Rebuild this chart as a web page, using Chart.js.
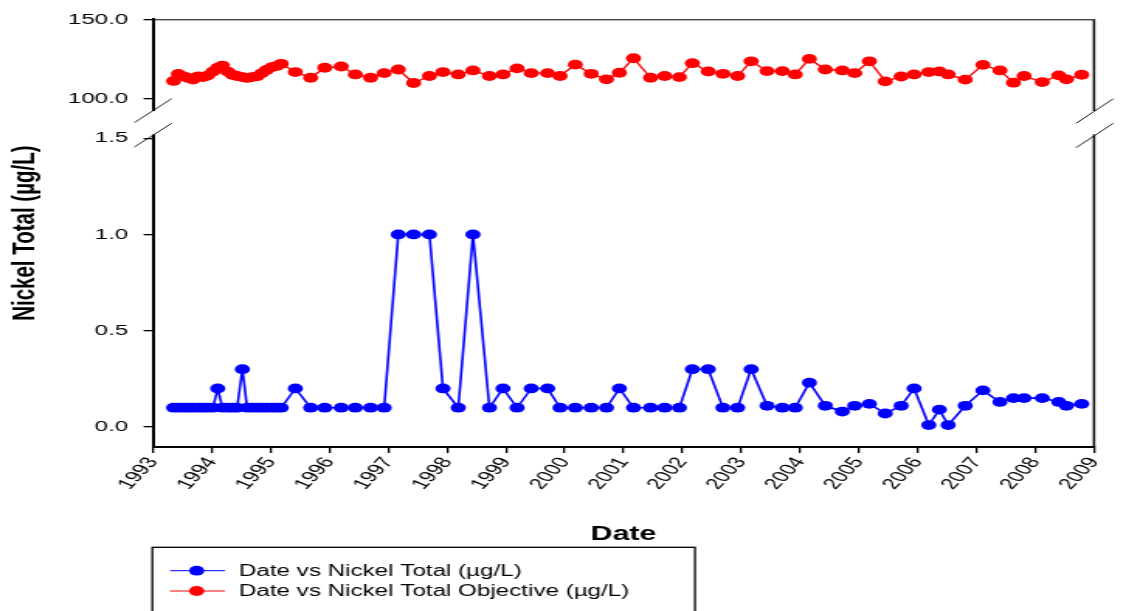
<!DOCTYPE html>
<html><head><meta charset="utf-8">
<script src="https://cdn.jsdelivr.net/npm/chart.js@4/dist/chart.umd.min.js"></script>
<style>html,body{margin:0;padding:0;background:#fff;overflow:hidden}
#c{display:block;width:1126px !important;height:611px !important}</style></head>
<body><canvas id="c" width="726" height="611" style="width:1126px;height:611px"></canvas>
<script>
// Sample dates (decimal years)
const dates = [
  1993.35, 1993.43, 1993.52, 1993.60, 1993.68, 1993.77, 1993.85, 1993.93,
  1994.02, 1994.10, 1994.18, 1994.27, 1994.35, 1994.43, 1994.52, 1994.60,
  1994.68, 1994.77, 1994.85, 1994.93, 1995.02, 1995.10, 1995.18,
  1995.42, 1995.68, 1995.92, 1996.20, 1996.44, 1996.70, 1996.93, 1997.17,
  1997.43, 1997.70, 1997.93, 1998.19, 1998.44, 1998.72, 1998.95, 1999.19,
  1999.43, 1999.71, 1999.92, 2000.18, 2000.45, 2000.71, 2000.93, 2001.17,
  2001.46, 2001.70, 2001.95, 2002.17, 2002.44, 2002.69, 2002.94, 2003.17,
  2003.44, 2003.70, 2003.92, 2004.16, 2004.43, 2004.72, 2004.93, 2005.18,
  2005.45, 2005.72, 2005.94, 2006.19, 2006.37, 2006.52, 2006.81, 2007.11,
  2007.40, 2007.63, 2007.81, 2008.12, 2008.40, 2008.53, 2008.79
];
// Nickel Total (µg/L)
const nickelTotal = [
  0.1, 0.1, 0.1, 0.1, 0.1, 0.1, 0.1, 0.1,
  0.1, 0.2, 0.1, 0.1, 0.1, 0.1, 0.3, 0.1,
  0.1, 0.1, 0.1, 0.1, 0.1, 0.1, 0.1,
  0.2, 0.1, 0.1, 0.1, 0.1, 0.1, 0.1, 1.0,
  1.0, 1.0, 0.2, 0.1, 1.0, 0.1, 0.2, 0.1,
  0.2, 0.2, 0.1, 0.1, 0.1, 0.1, 0.2, 0.1,
  0.1, 0.1, 0.1, 0.3, 0.3, 0.1, 0.1, 0.3,
  0.11, 0.1, 0.1, 0.23, 0.11, 0.08, 0.11, 0.12,
  0.07, 0.11, 0.2, 0.01, 0.09, 0.01, 0.11, 0.19,
  0.13, 0.15, 0.15, 0.15, 0.13, 0.11, 0.12
];
// Nickel Total Objective (µg/L)
const nickelObjective = [
  111.1, 115.5, 114.0, 113.0, 112.0, 114.0, 113.5, 114.5,
  117.0, 119.5, 120.8, 117.0, 115.0, 114.2, 113.5, 113.0,
  113.5, 114.0, 116.0, 118.0, 119.8, 120.5, 121.9,
  116.7, 113.1, 119.4, 120.2, 115.2, 113.1, 116.0, 118.3,
  109.8, 114.2, 116.7, 115.2, 117.7, 114.2, 115.2, 119.0,
  116.0, 116.0, 114.2, 121.4, 115.6, 112.1, 116.25, 125.4,
  113.1, 114.2, 113.5, 122.3, 117.1, 115.6, 114.2, 123.5,
  117.3, 117.3, 115.2, 125.0, 118.3, 117.7, 116.0, 123.5,
  110.8, 113.9, 115.2, 116.7, 117.1, 115.2, 111.9, 121.25,
  117.7, 110.0, 114.2, 110.4, 114.6, 112.1, 115.0
];
const xTickValues = [1993,1994,1995,1996,1997,1998,1999,2000,2001,2002,2003,2004,2005,2006,2007,2008,2009];
const xTickLabels = ['1993','1994','1995','1996','1997','1998','1999','2000','2001','2002','2003','2004','2005','2006','2007','2008','2009'];
const lowTickValues = [0, 0.5, 1.0, 1.5];
const lowTickLabels = ['0.0', '0.5', '1.0', '1.5'];
const highTickValues = [100, 150];
const highTickLabels = ['100.0', '150.0'];
const seriesNames = ['Date vs Nickel Total (µg/L)', 'Date vs Nickel Total Objective (µg/L)'];
const seriesColors = ['#0000ff', '#ff0000'];
const xTitle = 'Date';
const yTitle = 'Nickel Total (µg/L)';

const FONT = "'Liberation Sans', Arial, sans-serif";
const LEFT = 98.65, RIGHT_PAD = 20.6, TOP = 15;
const GAP_TOP = 111, GAP_BOT = 134.5;

function setTicks(values) { return s => { s.ticks = values.map(v => ({value: v})); }; }
function labelFor(values, labels) { return v => { const i = values.findIndex(t => Math.abs(t - v) < 1e-9); return i >= 0 ? labels[i] : ''; }; }

const tickFont = {family: FONT, size: 15.5};

const decor = {
  id: 'decor',
  afterDraw(chart) {
    const ctx = chart.ctx, a = chart.chartArea;
    ctx.save();
    // erase axis lines in the break gap
    ctx.fillStyle = '#fff';
    ctx.fillRect(a.left - 3, GAP_TOP, 6, GAP_BOT - GAP_TOP);
    // top frame
    ctx.strokeStyle = '#000';
    ctx.lineWidth = 1;
    ctx.beginPath(); ctx.moveTo(a.left, a.top + 0.5); ctx.lineTo(a.right, a.top + 0.5); ctx.stroke();
    // right frame with gap
    ctx.lineWidth = 1.5;
    ctx.beginPath();
    ctx.moveTo(a.right, a.top); ctx.lineTo(a.right, GAP_TOP);
    ctx.moveTo(a.right, GAP_BOT); ctx.lineTo(a.right, a.bottom);
    ctx.stroke();
    // break marks
    ctx.lineWidth = 0.9;
    const marks = [
      [a.left - 12.05, 122.7, a.left + 12.05, 98.7], [a.left - 12.05, 147, a.left + 12.05, 123.3],
      [a.right - 11.6, 123.3, a.right + 12.4, 98.7], [a.right - 11.6, 147.7, a.right + 12.4, 123.3]
    ];
    ctx.beginPath();
    marks.forEach(m => { ctx.moveTo(m[0], m[1]); ctx.lineTo(m[2], m[3]); });
    ctx.stroke();
    // axis titles
    ctx.fillStyle = '#000';
    ctx.font = 'bold 19.6px ' + FONT;
    ctx.textAlign = 'center'; ctx.textBaseline = 'middle';
    ctx.fillText(xTitle, (a.left + a.right) / 2, 535);
    ctx.save();
    ctx.translate(16.1, (a.top + a.bottom) / 2);
    ctx.rotate(-Math.PI / 2);
    ctx.font = 'bold 20.5px ' + FONT;
    ctx.fillText(yTitle, 0, 0);
    ctx.restore();
    // legend
    ctx.lineWidth = 1.3;
    ctx.strokeRect(98.2, 547.3, 349.9, 80);
    const rows = [570.7, 591];
    rows.forEach((y, i) => {
      ctx.strokeStyle = seriesColors[i]; ctx.fillStyle = seriesColors[i];
      ctx.lineWidth = 1;
      ctx.beginPath(); ctx.moveTo(109.6, y); ctx.lineTo(145.1, y); ctx.stroke();
      ctx.beginPath(); ctx.arc(126.8, y, 4.9, 0, Math.PI * 2); ctx.fill();
      ctx.fillStyle = '#000';
      ctx.font = '15.6px ' + FONT;
      ctx.textAlign = 'left'; ctx.textBaseline = 'middle';
      ctx.fillText(seriesNames[i], 154.1, y + 0.5);
    });
    ctx.restore();
  }
};

new Chart(document.getElementById('c'), {
  type: 'line',
  data: {
    datasets: [
      {
        label: seriesNames[0],
        data: dates.map((d, i) => ({x: d, y: nickelTotal[i]})),
        yAxisID: 'y',
        borderColor: seriesColors[0], backgroundColor: seriesColors[0],
        borderWidth: 1.6, pointRadius: 4.9, pointBorderWidth: 0, pointHoverRadius: 4.9,
        tension: 0, clip: false
      },
      {
        label: seriesNames[1],
        data: dates.map((d, i) => ({x: d, y: nickelObjective[i]})),
        yAxisID: 'yTop',
        borderColor: seriesColors[1], backgroundColor: seriesColors[1],
        borderWidth: 1.4, pointRadius: 4.9, pointBorderWidth: 0, pointHoverRadius: 4.9,
        tension: 0, clip: false
      }
    ]
  },
  options: {
    responsive: false,
    devicePixelRatio: 1,
    animation: false,
    events: [],
    layout: {padding: {left: 0, right: RIGHT_PAD, top: TOP, bottom: 0}},
    plugins: {legend: {display: false}, tooltip: {enabled: false}},
    scales: {
      x: {
        type: 'linear', position: 'bottom', min: 1993, max: 2009,
        afterBuildTicks: setTicks(xTickValues),
        afterFit: s => { s.height = 164; },
        ticks: {font: tickFont, color: '#000', minRotation: 57, maxRotation: 57, padding: 1, autoSkip: false,
                callback: labelFor(xTickValues, xTickLabels)},
        grid: {display: true, drawOnChartArea: false, drawTicks: true, tickLength: 6, color: '#000', lineWidth: 1.3},
        border: {display: true, color: '#000', width: 2}
      },
      y: {
        type: 'linear', position: 'left', stack: 'v', stackWeight: 337, weight: 0,
        min: -0.104, max: 1.629,
        afterBuildTicks: setTicks(lowTickValues),
        afterFit: s => { s.width = LEFT; },
        ticks: {font: tickFont, color: '#000', padding: 10, autoSkip: false,
                callback: labelFor(lowTickValues, lowTickLabels)},
        grid: {display: true, drawOnChartArea: false, drawTicks: true, tickLength: 6, color: '#000', lineWidth: 1.3},
        border: {display: true, color: '#000', width: 2}
      },
      yTop: {
        type: 'linear', position: 'left', stack: 'v', stackWeight: 95, weight: 1,
        min: 90.625, max: 150,
        afterBuildTicks: setTicks(highTickValues),
        afterFit: s => { s.width = LEFT; },
        ticks: {font: tickFont, color: '#000', padding: 10, autoSkip: false,
                callback: labelFor(highTickValues, highTickLabels)},
        grid: {display: true, drawOnChartArea: false, drawTicks: true, tickLength: 6, color: '#000', lineWidth: 1.3},
        border: {display: true, color: '#000', width: 2}
      }
    }
  },
  plugins: [decor]
});
</script>
</body></html>
